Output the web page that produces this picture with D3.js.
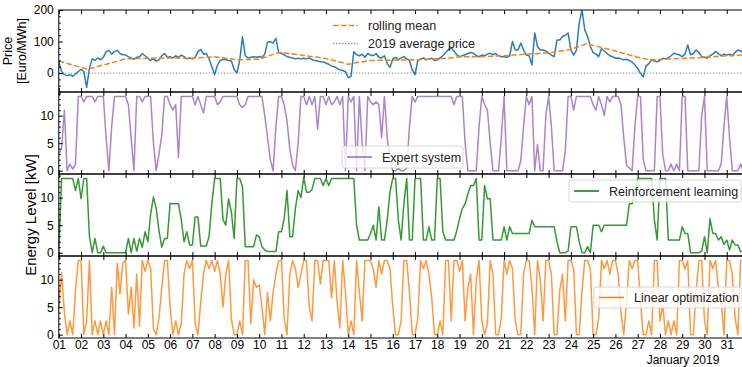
<!DOCTYPE html>
<html>
<head>
<meta charset="utf-8">
<script src="https://cdn.jsdelivr.net/npm/d3@7"></script>
<style>
  body { margin: 0; background: #fff; }
  text { font-family: "Liberation Sans", Arial, sans-serif; }
</style>
</head>
<body>
<svg id="chart" width="742" height="367"></svg>
<script>
// values every 3 hours, 8 per day, Jan 01 .. Jan 31 2019
var price = [
  36,5,-5,-8,-5,-10,-3,5,
  12,5,-45,15,45,40,48,42,
  50,68,72,60,68,72,62,58,
  57,52,48,44,50,52,62,55,
  48,40,45,38,42,55,62,50,
  52,48,55,50,57,52,45,48,
  45,50,68,75,60,62,45,20,
  -5,25,40,44,42,40,38,12,
  0,40,115,55,48,50,52,50,
  52,50,60,98,100,95,110,65,
  62,58,52,50,48,45,47,45,
  47,45,48,42,40,38,36,35,
  32,28,22,20,15,10,8,5,
  -15,-10,68,58,55,60,50,62,
  57,55,62,50,48,55,30,18,
  45,50,42,48,52,45,40,10,
  -5,40,45,48,42,45,47,40,
  42,48,55,65,75,80,70,58,
  52,55,58,62,65,63,55,52,
  57,55,60,63,58,62,55,52,
  52,50,55,100,73,73,95,73,
  57,55,26,127,84,73,73,70,
  63,57,52,105,105,116,120,127,
  73,57,73,160,200,137,116,84,
  65,60,52,78,70,62,55,52,
  47,48,45,42,44,40,35,26,
  15,-1,-12,22,30,42,38,36,
  40,47,45,48,55,63,60,58,
  52,60,89,58,62,73,65,52,
  50,47,55,60,68,62,55,60,
  57,60,55,65,73,70,65,68
];

// rolling mean, read at its corners (day of month, Euro/MWh)
var rollDay = [1, 2.3, 4, 5.5, 7, 8, 9, 10, 10.9, 12, 13, 14, 14.3, 15, 17, 18.5, 19, 20, 21, 22, 23, 24, 24.7, 26, 27, 27.5, 28.5, 30, 31, 32];
var rollVal = [38, 12, 45, 48, 47, 52, 42, 44, 66, 56, 46, 28, 32, 40, 42, 47, 52, 52, 55, 60, 64, 75, 93, 70, 50, 42, 45, 50, 55, 58];
var avgPrice = 0;

var expert = [
  3,4,11,0,1.2,0.3,1.2,13.5,
  13.5,12.5,13.5,13.5,13.5,12.5,13.5,13.5,
  13.5,6,0,8,13.5,13.5,13.5,13.5,
  13.5,12,6,0,13.5,13.5,12.5,13.5,
  13.5,13.5,5,0,3,6.4,13.5,13.5,
  12,11,12,2.4,13.5,13.5,13.5,13.5,
  13.5,12,13.5,12,10.5,13.5,13.5,13.5,
  13.5,12,12.5,13.5,13.5,13.5,13.5,13.5,
  13.5,12,11.5,12,13.5,13.5,13.5,13.5,
  13.5,13.5,10,6,2,0,8,13.5,
  13.5,12,9,4,1,0,5,13.5,
  13.5,12,13.5,12,13.5,7.5,13.5,13.5,
  12,13.5,12,12.5,13.5,12,13.5,0,
  13.5,12.5,13.5,0,13.5,5,0,13.5,
  12.5,12,12.5,12,6,13.5,6,2,
  0,0,0.5,0,0,0.5,8,13.5,
  12.5,13.5,13.5,13.5,13.5,13.5,13.5,13.5,
  13.5,13.5,13.5,13.5,13.5,13.5,12,13.5,
  13.5,13.5,5,0,0,0,0,8,
  13.5,12,11,5,0,0,0,6,
  13.5,0,0,0,0,0,1.8,8,
  13.5,12,13.5,0,4.8,0,0,10,
  13.5,8,0,0,0,0,3.6,13.5,
  13.5,11,13.5,13.5,13.5,13.5,13.5,13.5,
  12,11,13.5,12,10,13.5,12.5,13.5,
  13.5,13.5,12,6,1,0.5,0,8,
  13.5,13.5,2,0,0,0,0,13.5,
  13.5,3,0,0,1.2,0,1.2,0,
  13.5,13.5,0,0,0,0,0,10,
  13.5,0,0,0,0,0,1.2,8,
  13.5,6,0,0,0,1.2,0,0
];

var reinforcement = [
  0,13.5,13.5,13.5,13.5,13.5,11.3,13.5,
  9.8,13.5,13.5,3,0,2.6,0,0,
  1.2,0,0,0,0,0,0,0,
  0,2.6,0,2.6,0.3,2.6,1,3.8,
  2,7,10.1,8,4,1,2.6,2.6,
  9,8.9,8.9,8.9,6,2,3.8,1.4,
  1.4,6.5,6.5,1.2,1.2,1.2,3,9,
  13.5,13.5,13.5,6,5,9.8,7.4,2.6,
  13.5,13.5,12,1.1,1.1,1.1,1.1,3.2,
  2.9,1.1,0.5,0.2,0.2,0.2,0.2,3.8,
  3.8,6.2,11.3,2.9,2.9,8,11.3,10,
  13.7,11,11,11.5,13.5,13.5,13.5,12.2,
  13.5,12.2,13.5,13.5,13.5,13.5,13.5,13.5,
  13.5,13.5,13.5,5,2.3,2.3,2.3,2.3,
  3.5,5,2.3,8.3,2.3,2.3,5.9,11,
  13.5,13.5,6,2.3,8.9,13.5,2.3,2.3,
  13.5,13.5,13.5,2.3,2.3,4.7,2.3,2.3,
  13.5,13.5,3.8,2.3,2.3,2.3,2.3,4,
  6.2,8,8.9,10.7,12.2,12.2,13.5,2.3,
  2.3,12.2,9.8,9.8,2.3,2.3,2.3,2.3,
  4.7,2.3,4.7,3.5,3.5,3.5,3.5,3.5,
  3.5,3.5,5.9,4.7,4.7,4.7,4.7,4.7,
  4.7,4.7,4.7,2,0,0,0,0.3,
  4.7,4.7,4.7,2,0,0,1.1,0,
  5,5,5,3.8,5,5,5,5,
  5,5,5,5,5,8.9,8.9,11,
  13.5,13.5,13.5,13.5,13.5,13.5,6,2.3,
  13.5,13.5,13.5,2.3,2.3,2.3,2.3,2.3,
  4.7,3.5,3.5,0,0,0,0,0.3,
  2.9,0,6.2,3.5,3.5,2.3,2.9,1.5,
  2.3,0.5,2.3,1.4,1.4,0.2,0.2,0.2
];

var linear = [
  5,11.3,4,0,2.5,0,8,13.5,
  13.5,0,2.5,13.5,0,2.5,0,2.5,
  0,2.5,0,8.6,0,13,7.4,13,
  13.5,3.7,8.6,1.2,11,1.5,13.5,11.5,
  13.5,12,1,0,3,8.6,13.5,13.5,
  5,0,2.5,0,2,11,13.5,12,
  13.5,2,0,6,11,13.5,12,13.5,
  11.5,13.5,11,5,11,13.5,3,0,
  0,2.5,0,13.5,13.5,2,10,8.6,
  9,5,0,7.7,2.5,7.7,11,13.5,
  13.5,3,0,11,13.5,12,8.6,11,
  13.5,13.5,5,2.5,13.5,13.5,9.2,13.5,
  13.5,13.5,6.7,13.5,6,1.2,13.5,7.7,
  0,2.5,0,13.5,7.7,2.5,13.5,13.5,
  13.5,12,8.6,13.5,11,13.5,13.5,12,
  5,0,0,2.5,13.5,13.5,7.7,0,
  0,3,13.5,12,13.5,11,6.7,0,
  0,2.5,0,13.5,13.5,2.5,13.5,13.5,
  11.5,13.5,2.5,8.6,11,0,10,13.5,
  2.5,0,2,13.5,11,0,0,3,
  13.5,11,13.5,12,2.5,0,0,11,
  13.5,13.5,8.6,0,13.5,10,2.5,13.5,
  13.5,11,0,0,8,11,2.5,13.5,
  13.5,12,0,0,8,13.5,13.5,12,
  0,0,3,13.5,12,13.5,11,13.5,
  13.5,11,4,0,6,13.5,12,13.5,
  13.5,6,0,0,2.5,0,13.5,13.5,
  2.5,5.5,0,2.5,0,2.5,0,13.5,
  13.5,12,13.5,0,0,8,13.5,13.5,
  2.5,0,13.5,12,13.5,8.6,6,0,
  13.5,13.5,11,3,0,13.5,13.5,10
];

var dayTicks = d3.range(1, 32);
var legendNames = ["rolling mean", "2019 average price", "Expert system", "Reinforcement learning", "Linear optimization"];

var t0 = Date.UTC(2019, 0, 1), hour = 3600 * 1000;
function timeOf(i) { return new Date(t0 + i * 3 * hour); }
function dayDate(d) { return new Date(t0 + (d - 1) * 24 * hour); }

var svg = d3.select("#chart");
var left = 58.8, right = 749, ph = 82;
var tops = [10, 92, 174, 256];

var x = d3.scaleUtc()
  .domain([new Date(t0), new Date(Date.UTC(2019, 1, 1))])
  .range([left, right]);

var defs = svg.append("defs");

function panel(k, domain, major, minor) {
  var top = tops[k];
  var y = d3.scaleLinear().domain(domain).range([top + ph, top]);
  defs.append("clipPath").attr("id", "clip" + k)
    .append("rect").attr("x", left).attr("y", top).attr("width", right - left).attr("height", ph);
  var g = svg.append("g");
  var lines = g.append("g").attr("clip-path", "url(#clip" + k + ")");
  return { y: y, g: g, lines: lines, top: top, major: major, minor: minor };
}

function frame(p, showX) {
  var g = p.g.append("g");
  // x ticks top and bottom, inward
  var xb = d3.axisBottom(x).tickValues(dayTicks.map(dayDate)).tickSize(-4).tickPadding(2.5)
    .tickFormat(showX ? d3.utcFormat("%d") : "");
  g.append("g").attr("transform", "translate(0," + (p.top + ph) + ")").call(xb);
  var xt = d3.axisTop(x).tickValues(dayTicks.map(dayDate)).tickSize(-4).tickFormat("");
  g.append("g").attr("transform", "translate(0," + p.top + ")").call(xt);
  // y ticks
  var ya = d3.axisLeft(p.y).tickValues(p.major).tickSize(-4).tickPadding(5);
  g.append("g").attr("transform", "translate(" + left + ",0)").call(ya);
  var ym = d3.axisLeft(p.y).tickValues(p.minor).tickSize(-2).tickFormat("");
  g.append("g").attr("transform", "translate(" + left + ",0)").call(ym);
  g.selectAll(".domain").remove();
  g.selectAll(".tick line").attr("stroke", "#000").attr("stroke-width", 1);
  g.selectAll(".tick text").attr("font-size", 12).attr("fill", "#000")
    .style("font-family", '"Liberation Sans", Arial, sans-serif');
  g.append("rect").attr("x", left).attr("y", p.top).attr("width", right - left).attr("height", ph)
    .attr("fill", "none").attr("stroke", "#000").attr("stroke-width", 1);
}

function drawSeries(p, data, color, width, opacity) {
  var line = d3.line().x(function (d, i) { return x(timeOf(i)); }).y(function (d) { return p.y(d); });
  p.lines.append("path").datum(data).attr("d", line)
    .attr("fill", "none").attr("stroke", color).attr("stroke-width", width)
    .attr("stroke-opacity", opacity).attr("stroke-linejoin", "round");
}

function legendBox(x0, y0, w, h, color, name, dash) {
  var g = svg.append("g");
  if (w > 0) {
    g.append("rect").attr("x", x0).attr("y", y0).attr("width", w).attr("height", h)
      .attr("rx", 2.5).attr("fill", "#fff").attr("fill-opacity", 0.8)
      .attr("stroke", "#ccc").attr("stroke-width", 0.8);
  }
  var ly = y0 + h / 2;
  g.append("line").attr("x1", x0 + 5).attr("x2", x0 + 30).attr("y1", ly).attr("y2", ly)
    .attr("stroke", color).attr("stroke-width", 1.5).attr("stroke-dasharray", dash || null);
  g.append("text").attr("x", x0 + 40).attr("y", ly + 4.5).attr("font-size", 12.5).attr("fill", "#222").text(name);
}

// panel 1: price
var p1 = panel(0, [-60, 200], [0, 100, 200], d3.range(-60, 201, 20).filter(function (v) { return v % 100 != 0; }));
p1.lines.append("line").attr("x1", left).attr("x2", right)
  .attr("y1", p1.y(avgPrice)).attr("y2", p1.y(avgPrice))
  .attr("stroke", "#999").attr("stroke-width", 1).attr("stroke-dasharray", "1.5,1.5");
drawSeries(p1, price, "#1f77b4", 1.5, 0.95);
p1.lines.append("path").datum(rollDay)
  .attr("d", d3.line().x(function (d) { return x(dayDate(d)); }).y(function (d, i) { return p1.y(rollVal[i]); }))
  .attr("fill", "none").attr("stroke", "#ff7f0e").attr("stroke-width", 1.5).attr("stroke-dasharray", "5.5,2.4");
frame(p1, false);

// energy panels
var eMinor = d3.range(0, 15).filter(function (v) { return v % 5 != 0; });
var p2 = panel(1, [-0.6, 14.3], [0, 5, 10], eMinor);
drawSeries(p2, expert, "#9467bd", 1.5, 0.8);
frame(p2, false);
var p3 = panel(2, [-0.6, 14.3], [0, 5, 10], eMinor);
drawSeries(p3, reinforcement, "#008000", 1.5, 0.8);
frame(p3, false);
var p4 = panel(3, [-0.6, 14.3], [0, 5, 10], eMinor);
drawSeries(p4, linear, "#ff7f0e", 1.5, 0.8);
frame(p4, true);

// legends
legendBox(328, 17, 0, 17, "#ff7f0e", legendNames[0], "5.5,2.4");
legendBox(328, 35, 0, 17, "#999", legendNames[1], "1.5,1.5");
legendBox(342, 146, 121, 22, "#9467bd", legendNames[2]);
legendBox(569, 180, 172, 22, "#008000", legendNames[3]);
legendBox(594, 287, 148, 21, "#ff7f0e", legendNames[4]);

// axis labels
svg.append("text").attr("transform", "translate(12,51) rotate(-90)").attr("text-anchor", "middle")
  .attr("font-size", 12.5).text("Price");
svg.append("text").attr("transform", "translate(26,51) rotate(-90)").attr("text-anchor", "middle")
  .attr("font-size", 12.5).text("[Euro/MWh]");
svg.append("text").attr("transform", "translate(36,215) rotate(-90)").attr("text-anchor", "middle")
  .attr("font-size", 15).text("Energy Level [kW]");
svg.append("text").attr("x", 683).attr("y", 364).attr("text-anchor", "middle")
  .attr("font-size", 12).text("January 2019");
</script>
</body>
</html>
